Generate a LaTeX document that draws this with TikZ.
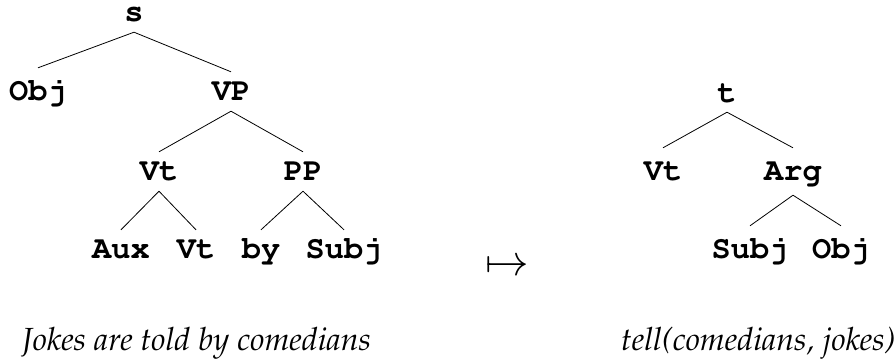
\RequirePackage{fix-cm}
\documentclass[tikz,border=0pt]{standalone}
% Tree labels in bold Courier, glosses in Palatino italic
\newcommand\treefont{\fontencoding{OT1}\fontfamily{pcr}\fontseries{b}\fontshape{n}\fontsize{32}{34}\selectfont}
\newcommand\glossfont{\fontencoding{OT1}\fontfamily{ppl}\fontseries{m}\fontshape{it}\fontsize{32}{34}\selectfont}
\begin{document}
\begin{tikzpicture}[x=1pt,y=-1pt,
  lbl/.style={font=\treefont, anchor=base, inner xsep=0pt, inner ysep=11pt,
              text height=17pt, text depth=0pt},
  rlbl/.style={lbl, inner ysep=15pt},
  gloss/.style={font=\glossfont, anchor=base west, inner sep=0pt},
  branch/.style={line width=0.8pt}]
\useasboundingbox (0,0) rectangle (894,362);

% source tree
\node[lbl, text height=7pt] (s) at (134,21) {s};
\node[lbl, inner ysep=15pt] (obj) at (38,100) {Obj};
\node[lbl] (vp)   at (231,100) {VP};
\node[lbl] (vt)   at (159,180) {Vt};
\node[lbl] (pp)   at (303,180) {PP};
\node[lbl] (aux)  at (121,258) {Aux};
\node[lbl] (vt2)  at (196,258) {Vt};
\node[lbl] (by)   at (261,258) {by};
\node[lbl] (subj) at (344,258) {Subj};

\draw[branch] (s.south)  -- (obj.north);
\draw[branch] (s.south)  -- (vp.north);
\draw[branch] (vp.south) -- (vt.north);
\draw[branch] (vp.south) -- (pp.north);
\draw[branch] (vt.south) -- (aux.north);
\draw[branch] (vt.south) -- (vt2.north);
\draw[branch] (pp.south) -- (by.north);
\draw[branch] (pp.south) -- (subj.north);

% mapping arrow
\node[font=\fontsize{30}{32}\selectfont, inner sep=0pt, scale=1.45] (map) at (507,268) {$\mapsto$};

% target tree
\node[lbl, inner ysep=10pt, text height=12pt] (t) at (727,102) {t};
\node[rlbl] (tvt)   at (663,180) {Vt};
\node[rlbl] (arg)   at (793,180) {Arg};
\node[rlbl] (tsubj) at (750,258) {Subj};
\node[rlbl] (tobj)  at (841,258) {Obj};

\draw[branch] (t.south)   -- (tvt.north);
\draw[branch] (t.south)   -- (arg.north);
\draw[branch] (arg.south) -- (tsubj.north);
\draw[branch] (arg.south) -- (tobj.north);

% glosses
\node[gloss] (sent) at (22,350)  {Jokes are told by comedians};
\node[gloss] (form) at (621,350) {tell(comedians, jokes)};
\end{tikzpicture}
\end{document}
